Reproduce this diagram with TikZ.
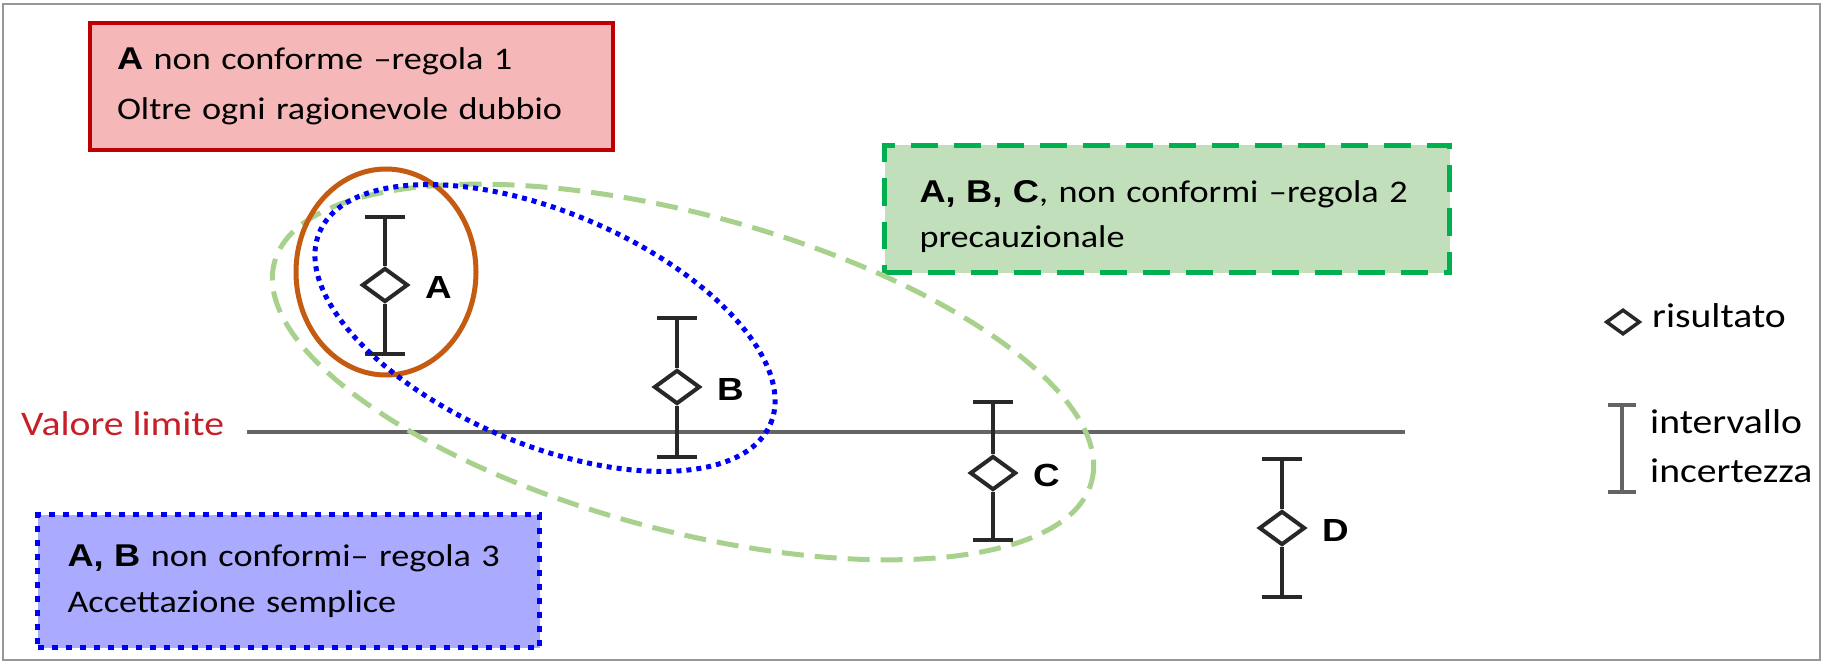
\documentclass[tikz,border=0pt]{standalone}
\usepackage{fontspec}
\setmainfont{Carlito}[FakeStretch=1.15]
\newfontfamily\arialf{Liberation Sans}[FakeStretch=1.15]
\usetikzlibrary{shapes.geometric}
\definecolor{redborder}{RGB}{192,0,0}
\definecolor{redfill}{RGB}{245,183,183}
\definecolor{greenborder}{RGB}{0,176,80}
\definecolor{greenfill}{RGB}{193,223,186}
\definecolor{bluefill}{RGB}{170,170,255}
\definecolor{bluedot}{RGB}{0,0,245}
\definecolor{orangec}{RGB}{197,90,17}
\definecolor{lightgreen}{RGB}{169,209,142}
\definecolor{limitred}{RGB}{200,30,40}
\definecolor{framegray}{RGB}{150,150,150}
\definecolor{barc}{RGB}{40,40,40}
\definecolor{linegray}{RGB}{100,100,100}
\newcommand{\boldpart}[1]{{\arialf\bfseries #1}}
\begin{document}
\begin{tikzpicture}[x=1pt,y=-1pt,
  rulebox/.style={anchor=north west, align=left, inner ysep=0pt},
  redbox/.style={rulebox, font=\fontsize{31.5}{50}\selectfont, draw=redborder, fill=redfill, line width=4pt},
  greenbox/.style={rulebox, font=\fontsize{31.5}{45}\selectfont, draw=greenborder, fill=greenfill, line width=5pt, dash pattern=on 27pt off 16pt},
  bluebox/.style={rulebox, font=\fontsize{31.5}{46}\selectfont, draw=bluedot, fill=bluefill, line width=5pt, dash pattern=on 6pt off 8pt},
  res/.style={diamond, draw=barc, fill=white, line width=4pt, minimum width=46pt, minimum height=34pt, inner sep=0pt},
  bar/.style={draw=barc, line width=4pt},
  lbl/.style={font=\arialf\bfseries\fontsize{32}{36}\selectfont, inner sep=0pt, anchor=west},
  legtext/.style={font=\fontsize{34.5}{49}\selectfont, inner sep=0pt},
]
\useasboundingbox (0,0) rectangle (1825,663);
\draw[framegray, line width=2pt] (3,4) rectangle (1820,660);

% rule boxes
\node[redbox, text width=469pt, inner xsep=27pt, minimum height=127pt] (r1) at (88,21)
  {\boldpart{A} non conforme --regola 1\\Oltre ogni ragionevole dubbio};
\node[greenbox, text width=495pt, inner xsep=35pt, minimum height=127pt] (r2) at (882,143)
  {\rule{0pt}{38pt}\boldpart{A, B, C}, non conformi --regola 2\\precauzionale};
\node[bluebox, text width=442pt, inner xsep=30pt, minimum height=133pt] (r3) at (35,512)
  {\boldpart{A, B} non conformi-- regola 3\\Accettazione semplice};

% limit line
\node[font=\fontsize{34.5}{40}\selectfont, text=limitred, anchor=base west, inner sep=0pt] (vl) at (21,435) {Valore limite};
\coordinate (L1) at (247,432);
\coordinate (L2) at (1405,432);
\draw[linegray, line width=4pt] (L1) -- (L2);

% results with uncertainty bars
\foreach \n/\x/\t/\c/\b in {A/385/217/285/354, B/677/318/387/457, C/993/402/473/540, D/1282/459/528/597} {
  \coordinate (\n top) at (\x,\t);
  \coordinate (\n bot) at (\x,\b);
  \node[res] (\n) at (\x,\c) {};
  \draw[bar] (\n top) -- (\n);
  \draw[bar] (\n) -- (\n bot);
  \draw[bar] ([xshift=-20pt]\n top) -- ([xshift=20pt]\n top);
  \draw[bar] ([xshift=-20pt]\n bot) -- ([xshift=20pt]\n bot);
  \node[lbl] (\n lbl) at ([xshift=15pt,yshift=-2pt]\n.east) {\n};
}

% groupings
\draw[lightgreen, line width=5pt, dash pattern=on 22pt off 11pt, rotate around={-15:(683,372)}]
  (683,372) ellipse [x radius=423pt, y radius=158pt];
\draw[orangec, line width=5pt] (386,272) ellipse [x radius=90pt, y radius=103pt];
\draw[bluedot, line width=5pt, dash pattern=on 5pt off 5pt, rotate around={-23:(545,328)}]
  (545,328) ellipse [x radius=245pt, y radius=116pt];

% legend
\node[res, minimum width=34pt, minimum height=25pt, line width=3.5pt] (legres) at (1623,322) {};
\node[legtext, anchor=base west] (legrestxt) at (1652,327) {risultato};
\coordinate (legtop) at (1622,405);
\coordinate (legbot) at (1622,492);
\draw[draw=linegray, line width=3.5pt] (legtop) -- (legbot);
\draw[draw=linegray, line width=3.5pt] ([xshift=-14pt]legtop) -- ([xshift=14pt]legtop);
\draw[draw=linegray, line width=3.5pt] ([xshift=-14pt]legbot) -- ([xshift=14pt]legbot);
\node[legtext, align=left, anchor=west] (legbartxt) at (1650,446) {intervallo\\incertezza};
\end{tikzpicture}
\end{document}
